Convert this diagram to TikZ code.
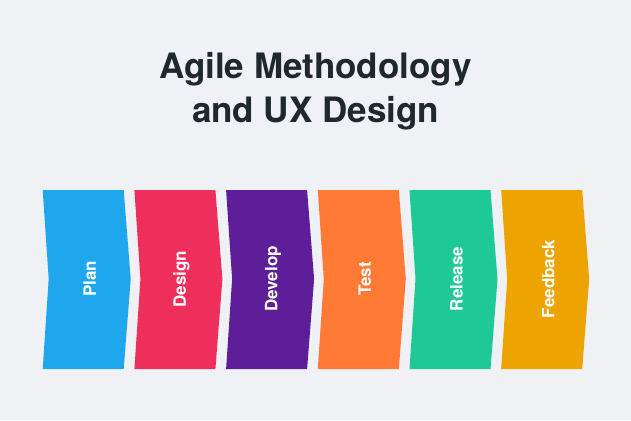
\documentclass[tikz,border=0pt]{standalone}
\usepackage{fontspec}
\setmainfont{TeX Gyre Heros}
\definecolor{bg}{HTML}{EFF1F5}
\definecolor{ink}{HTML}{1E282D}
\definecolor{cPlan}{HTML}{1EA7EC}
\definecolor{cDesign}{HTML}{EE2F5C}
\definecolor{cDevelop}{HTML}{5E1E9A}
\definecolor{cTest}{HTML}{FF7A35}
\definecolor{cRelease}{HTML}{1EC995}
\definecolor{cFeedback}{HTML}{EEA400}
\begin{document}
\begin{tikzpicture}[x=1pt,y=-1pt,
  titletext/.style={text=ink,font=\fontsize{35}{40}\selectfont\bfseries,anchor=base,inner sep=0pt},
  steplabel/.style={text=white,font=\fontsize{17}{20}\selectfont\bfseries,rotate=90,anchor=center,inner sep=0pt}]
\fill[bg] (0,0) rectangle (631,420);
\useasboundingbox (0,0) rectangle (631,420);
\node[titletext] (t1) at (315.5,78) {Agile Methodology};
\node[titletext] (t2) at (315.5,122) {and UX Design};
\foreach \i/\name/\col in {0/Plan/cPlan,1/Design/cDesign,2/Develop/cDevelop,3/Test/cTest,4/Release/cRelease,5/Feedback/cFeedback}{
  \pgfmathsetmacro{\xo}{42.7+91.7*\i}
  \fill[\col] (\xo,190) -- (\xo+81,190) -- (\xo+88,279) -- (\xo+81,369) -- (\xo,369) -- (\xo+6,279) -- cycle;
  \node[steplabel] (l\i) at (\xo+47,279) {\name};
}
\end{tikzpicture}
\end{document}
